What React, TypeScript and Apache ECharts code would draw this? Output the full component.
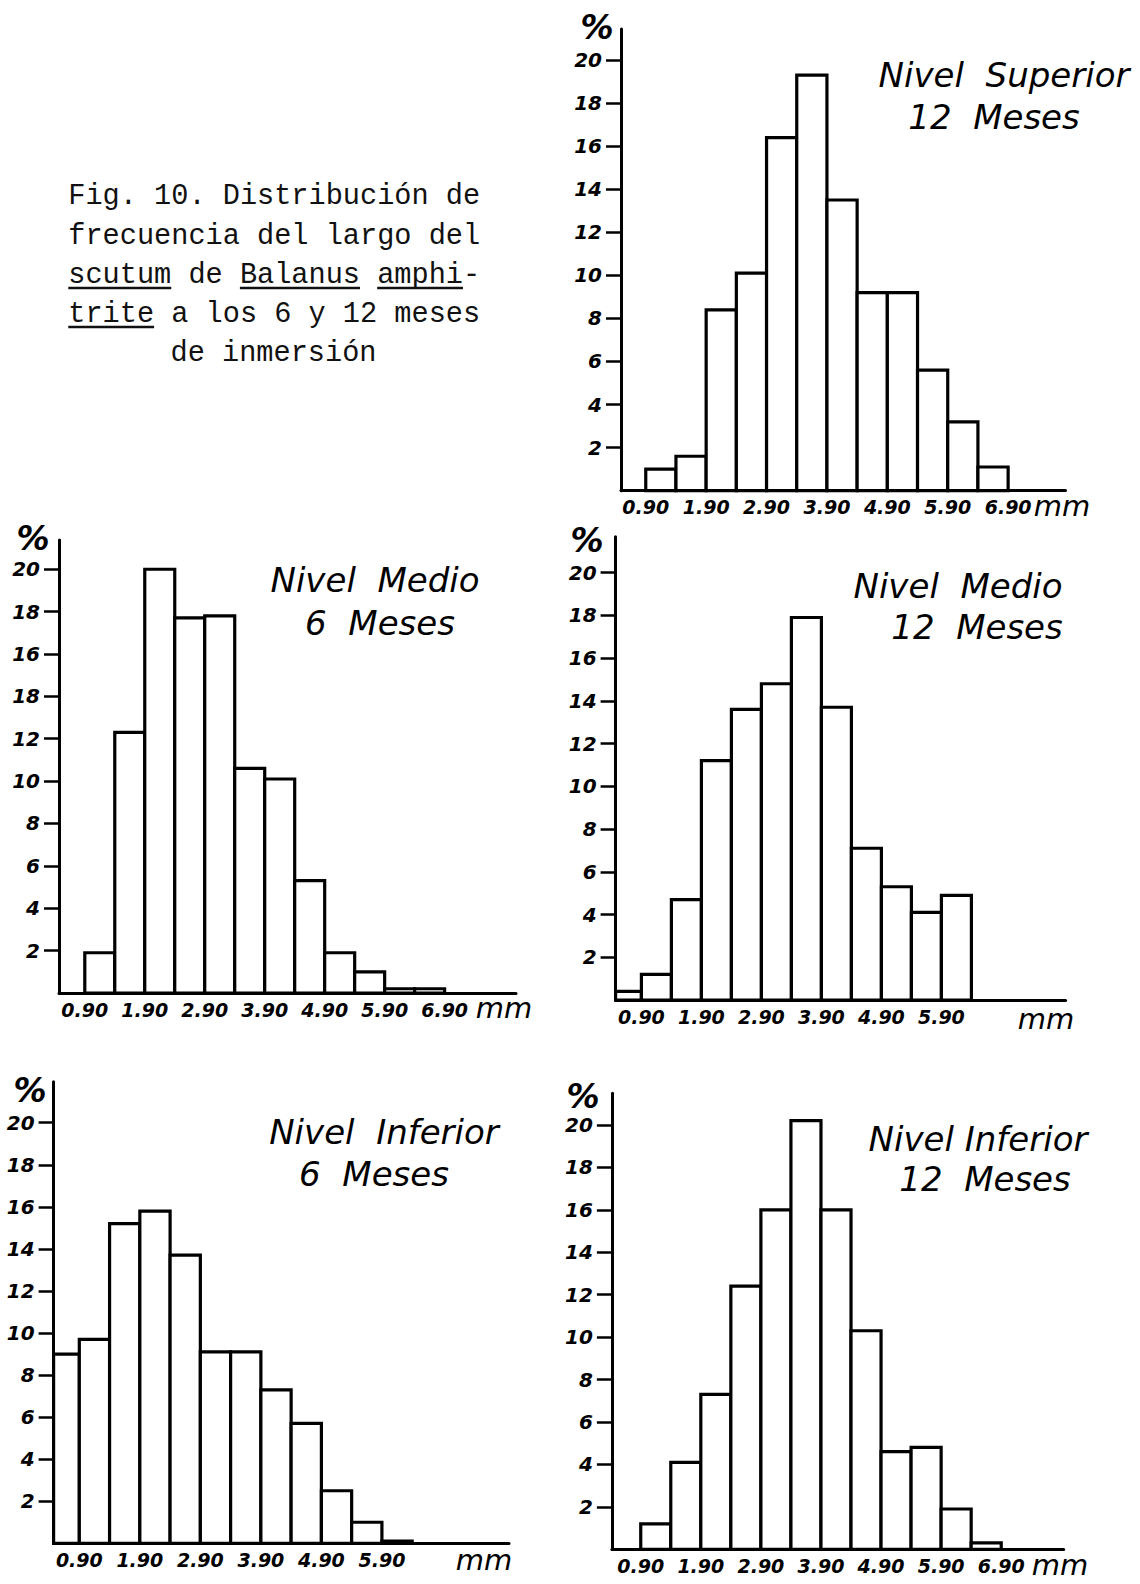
import React, { useEffect, useRef } from "react";
import * as echarts from "echarts";

// ---------- DATA ----------
const binWidthMm = 0.5;
const binStartsFrom090 = [0.9, 1.4, 1.9, 2.4, 2.9, 3.4, 3.9, 4.4, 4.9, 5.4, 5.9, 6.4];
const binStartsFrom040 = [0.4, 0.9, 1.4, 1.9, 2.4, 2.9, 3.4, 3.9, 4.4, 4.9, 5.4, 5.9];

const superior12Values = [1.0, 1.6, 8.4, 10.1, 16.4, 19.3, 13.5, 9.2, 9.2, 5.6, 3.2, 1.1];
const medio6Values = [1.9, 12.3, 20.0, 17.7, 17.8, 10.6, 10.1, 5.3, 1.9, 1.0, 0.2, 0.2];
const medio12Values = [0.4, 1.2, 4.7, 11.2, 13.6, 14.8, 17.9, 13.7, 7.1, 5.3, 4.1, 4.9];
const inferior6Values = [9.0, 9.7, 15.2, 15.8, 13.7, 9.1, 9.1, 7.3, 5.7, 2.5, 1.0, 0.1];
const inferior12Values = [1.2, 4.1, 7.3, 12.4, 16.0, 20.2, 16.0, 10.3, 4.6, 4.8, 1.9, 0.3];

const yTickValues = [2, 4, 6, 8, 10, 12, 14, 16, 18, 20];
const yTickLabels = ["2", "4", "6", "8", "10", "12", "14", "16", "18", "20"];
// the printed figure labels the 14 tick of "Nivel Medio 6 Meses" as "18"
const medio6YTickLabels = ["2", "4", "6", "8", "10", "12", "18", "16", "18", "20"];
const xTicksTo690 = [0.9, 1.9, 2.9, 3.9, 4.9, 5.9, 6.9];
const xTicksTo590 = [0.9, 1.9, 2.9, 3.9, 4.9, 5.9];

const titlesSuperior12 = ["Nivel  Superior", "12  Meses"];
const titlesMedio6 = ["Nivel  Medio", "6  Meses"];
const titlesMedio12 = ["Nivel  Medio", "12  Meses"];
const titlesInferior6 = ["Nivel  Inferior", "6  Meses"];
const titlesInferior12 = ["Nivel Inferior", "12  Meses"];

const captionLines = [
  "Fig. 10. Distribución de",
  "frecuencia del largo del",
  "scutum de Balanus amphi-",
  "trite a los 6 y 12 meses",
  "de inmersión",
];

const unitY = "%";
const unitX = "mm";

// ---------- LAYOUT ----------
const panels = [
  {
    starts: binStartsFrom090, values: superior12Values, yLabels: yTickLabels, xTicks: xTicksTo690, titles: titlesSuperior12,
    left: 621, top: 29, right: 1065.5, bottom: 490.7, xMin: 0.49, xMax: 7.85, yMax: 21.44,
    titleX: [1004, 994], titleY: [75, 117], pct: [597, 27], mm: [1062, 506],
  },
  {
    starts: binStartsFrom090, values: medio6Values, yLabels: medio6YTickLabels, xTicks: xTicksTo690, titles: titlesMedio6,
    left: 59, top: 540, right: 516, bottom: 993, xMin: 0.47, xMax: 8.09, yMax: 21.38,
    titleX: [375, 380], titleY: [580, 623], pct: [33, 538], mm: [504, 1008],
  },
  {
    starts: binStartsFrom040, values: medio12Values, yLabels: yTickLabels, xTicks: xTicksTo590, titles: titlesMedio12,
    left: 615.6, top: 536.7, right: 1065.6, bottom: 1000, xMin: 0.47, xMax: 7.97, yMax: 21.68,
    titleX: [958, 977], titleY: [586, 627], pct: [587, 540], mm: [1046, 1019],
  },
  {
    starts: binStartsFrom040, values: inferior6Values, yLabels: yTickLabels, xTicks: xTicksTo590, titles: titlesInferior6,
    left: 53.6, top: 1081.7, right: 509, bottom: 1543.3, xMin: 0.475, xMax: 8.0, yMax: 21.95,
    titleX: [384, 374], titleY: [1132, 1174], pct: [30, 1090], mm: [484, 1560],
  },
  {
    starts: binStartsFrom090, values: inferior12Values, yLabels: yTickLabels, xTicks: xTicksTo690, titles: titlesInferior12,
    left: 611.9, top: 1093.3, right: 1063.7, bottom: 1549.3, xMin: 0.42, xMax: 7.94, yMax: 21.49,
    titleX: [978, 985], titleY: [1139, 1179], pct: [583, 1096], mm: [1060, 1565],
  },
];

const FONT = "'DejaVu Sans', sans-serif";

function buildOption() {
  const grid: any[] = [];
  const xAxis: any[] = [];
  const yAxis: any[] = [];
  const series: any[] = [];
  const graphic: any[] = [];

  panels.forEach((p, i) => {
    grid.push({ left: p.left, top: p.top, width: p.right - p.left, height: p.bottom - p.top, containLabel: false });
    xAxis.push({
      type: "value", gridIndex: i, min: p.xMin, max: p.xMax,
      axisLine: { show: true, onZero: false, lineStyle: { color: "#000", width: 3 } },
      axisTick: { show: false },
      splitLine: { show: false },
      axisLabel: {
        customValues: p.xTicks, margin: 7, color: "#000", fontFamily: FONT, fontStyle: "italic", fontWeight: "bold", fontSize: 19,
        formatter: (v: number) => v.toFixed(2),
      },
    });
    const labels = p.yLabels;
    yAxis.push({
      type: "value", gridIndex: i, min: 0, max: p.yMax,
      axisLine: { show: true, lineStyle: { color: "#000", width: 3 } },
      axisTick: { show: true, customValues: yTickValues, length: 15, lineStyle: { color: "#000", width: 2.5 } },
      splitLine: { show: false },
      axisLabel: {
        customValues: yTickValues, margin: 19, color: "#000", fontFamily: FONT, fontStyle: "italic", fontWeight: "bold", fontSize: 20,
        formatter: (v: number) => {
          const idx = yTickValues.indexOf(Math.round(v));
          return idx >= 0 ? labels[idx] : "";
        },
      },
    });
    series.push({
      type: "custom", xAxisIndex: i, yAxisIndex: i,
      encode: { x: [0, 1], y: 2 },
      data: p.starts.map((s, k) => [s, s + binWidthMm, p.values[k]]),
      renderItem: (params: any, api: any) => {
        const p0 = api.coord([api.value(0), 0]);
        const p1 = api.coord([api.value(1), api.value(2)]);
        const x0 = Math.max(p0[0], params.coordSys.x);
        return {
          type: "rect",
          shape: { x: x0, y: p1[1], width: p1[0] - x0, height: p0[1] - p1[1] },
          style: { fill: "#fff", stroke: "#000", lineWidth: 3.2 },
        };
      },
      z: 1,
    });

    p.titles.forEach((t, k) => {
      graphic.push({
        type: "text", x: p.titleX[k], y: p.titleY[k],
        style: { text: t, fontFamily: FONT, fontStyle: "italic", fontSize: 34, fill: "#000", align: "center", verticalAlign: "middle" },
      });
    });
    graphic.push({
      type: "text", x: p.pct[0], y: p.pct[1],
      style: { text: unitY, fontFamily: FONT, fontWeight: "bold", fontStyle: "italic", fontSize: 33, fill: "#000", align: "center", verticalAlign: "middle" },
    });
    graphic.push({
      type: "text", x: p.mm[0], y: p.mm[1],
      style: { text: unitX, fontFamily: FONT, fontStyle: "italic", fontSize: 29, fill: "#000", align: "center", verticalAlign: "middle" },
    });
  });

  // caption
  const capFont = 28.6;
  const charW = capFont * 0.6;
  const capLeft = 68.3;
  const capY = [196, 236, 275, 314, 353];
  captionLines.forEach((line, k) => {
    const x = k === 4 ? 273.5 - (line.length * charW) / 2 : capLeft;
    graphic.push({
      type: "text", x, y: capY[k],
      style: { text: line, fontFamily: "'Liberation Mono', 'DejaVu Sans Mono', monospace", fontSize: capFont, fill: "#111", align: "left", verticalAlign: "middle" },
    });
  });
  const underline = (fromChar: number, toChar: number, y: number) => ({
    type: "line",
    shape: { x1: capLeft + fromChar * charW, y1: y, x2: capLeft + toChar * charW, y2: y },
    style: { stroke: "#111", lineWidth: 2.5 },
  });
  graphic.push(underline(0, 6, 288));
  graphic.push(underline(10, 17, 288));
  graphic.push(underline(18, 23, 288));
  graphic.push(underline(0, 5, 327));

  return {
    animation: false,
    backgroundColor: "#fff",
    grid, xAxis, yAxis, series, graphic,
  };
}

export default function App() {
  const ref = useRef<HTMLDivElement>(null);
  useEffect(() => {
    if (!ref.current) return;
    const chart = echarts.init(ref.current, undefined, { renderer: "svg" });
    chart.setOption(buildOption() as any);
    return () => chart.dispose();
  }, []);
  return (
    <div
      ref={ref}
      style={{ position: "absolute", left: 0, top: 0, width: 1140, height: 1584, background: "#fff" }}
    />
  );
}
